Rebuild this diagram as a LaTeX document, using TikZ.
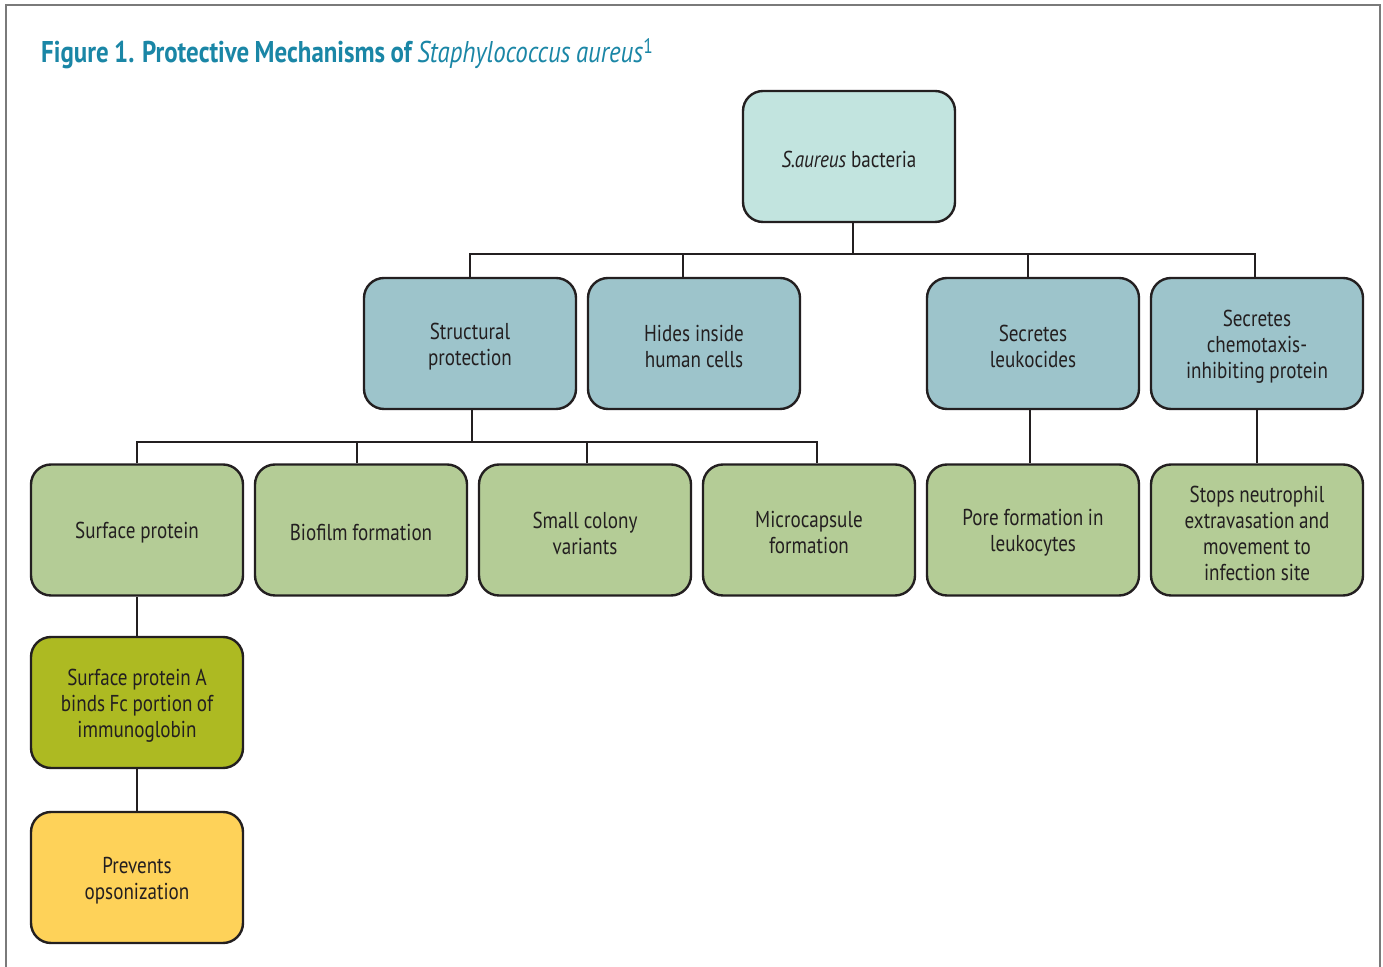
\documentclass[tikz,border=0pt]{standalone}
\usepackage{fontspec}
\setmainfont{PT Sans}[FakeStretch=0.83]
\newfontfamily\titlefont{PT Sans}[FakeStretch=0.83]
\newcommand{\myboxfont}{\fontsize{23}{26}\selectfont}
\newcommand{\mytitlefont}{\titlefont\fontsize{30}{32}\selectfont}
\definecolor{titlecol}{HTML}{1A86A6}
\definecolor{framecol}{HTML}{7A7A7A}
\definecolor{linecol}{HTML}{231F20}
\definecolor{topfill}{HTML}{C2E4DF}
\definecolor{midfill}{HTML}{9DC4CB}
\definecolor{greenfill}{HTML}{B4CC96}
\definecolor{olivefill}{HTML}{ADBA22}
\definecolor{yellowfill}{HTML}{FED259}
\tikzset{
  x=1pt,y=1pt,
  box/.style={draw=linecol, line width=2.4pt, rounded corners=20pt,
    minimum width=212pt, minimum height=131pt, inner sep=0pt},
  boxtext/.style={align=center, text width=200pt, text=linecol, inner sep=0pt,
    yshift=-3pt, font=\myboxfont,
    execute at begin node={\spaceskip=4pt plus 1pt minus 1pt\relax}},
  topbox/.style={box, fill=topfill},
  midbox/.style={box, fill=midfill},
  greenbox/.style={box, fill=greenfill},
  olivebox/.style={box, fill=olivefill},
  yellowbox/.style={box, fill=yellowfill},
  conn/.style={draw=linecol, line width=2.4pt}
}
\begin{document}
\begin{tikzpicture}
\useasboundingbox (0,0) rectangle (1383,966);
\fill[white] (0,0) rectangle (1383,966);
% frame
\draw[framecol, line width=2pt] (6,-5) -- (6,961) -- (1380,961) -- (1380,-5);
% title
\node[anchor=base west, inner sep=0pt, text=titlecol, font=\mytitlefont,
  execute at begin node={\spaceskip=5.5pt plus 1pt minus 1pt\relax}] (title) at (41,903)
  {\bfseries Figure 1. Protective Mechanisms of \mdseries\itshape Staphylococcus aureus\textsuperscript{\upshape 1}};
% nodes
\node[topbox, label={[boxtext]center:\textit{S.aureus} bacteria}] (top) at (849,809.5) {};
\node[midbox, label={[boxtext]center:Structural\\protection}] (struct) at (470,622.5) {};
\node[midbox, label={[boxtext]center:Hides inside\\human cells}] (hides) at (694,622.5) {};
\node[midbox, label={[boxtext]center:Secretes\\leukocides}] (leuk) at (1033,622.5) {};
\node[midbox, label={[boxtext]center:Secretes\\chemotaxis-\\inhibiting protein}] (chemo) at (1257,622.5) {};
\node[greenbox, label={[boxtext]center:Surface protein}] (surf) at (137,436) {};
\node[greenbox, label={[boxtext]center:Biofilm formation}] (bio) at (361,436) {};
\node[greenbox, label={[boxtext]center:Small colony\\variants}] (small) at (585,436) {};
\node[greenbox, label={[boxtext]center:Microcapsule\\formation}] (micro) at (809,436) {};
\node[greenbox, label={[boxtext]center:Pore formation in\\leukocytes}] (pore) at (1033,436) {};
\node[greenbox, label={[boxtext]center:Stops neutrophil\\extravasation and\\movement to\\infection site}] (stops) at (1257,436) {};
\node[olivebox, label={[boxtext]center:Surface protein A\\binds Fc portion of\\immunoglobin}] (spa) at (137,263.5) {};
\node[yellowbox, label={[boxtext]center:Prevents\\opsonization}] (prev) at (137,88.5) {};
% bus levels
\coordinate (bus1) at (853,712);
\coordinate (bus2) at (472,524);
% top connectors
\draw[conn] ([xshift=4pt]top.south) -- (bus1);
\draw[conn] (struct.north) |- (bus1) -| ([xshift=-2pt]chemo.north);
\draw[conn] ([xshift=-11pt]hides.north) -- ([xshift=-11pt]hides.north |- bus1);
\draw[conn] ([xshift=-5pt]leuk.north) -- ([xshift=-5pt]leuk.north |- bus1);
% structural connectors
\draw[conn] ([xshift=2pt]struct.south) -- (bus2);
\draw[conn] (surf.north) |- (bus2) -| ([xshift=8pt]micro.north);
\draw[conn] ([xshift=-4pt]bio.north) -- ([xshift=-4pt]bio.north |- bus2);
\draw[conn] ([xshift=2pt]small.north) -- ([xshift=2pt]small.north |- bus2);
% vertical chains
\draw[conn] ([xshift=-3pt]leuk.south) -- ([xshift=-3pt]pore.north);
\draw[conn] (chemo.south) -- (stops.north);
\draw[conn] (surf.south) -- (spa.north);
\draw[conn] (spa.south) -- (prev.north);
\end{tikzpicture}
\end{document}
